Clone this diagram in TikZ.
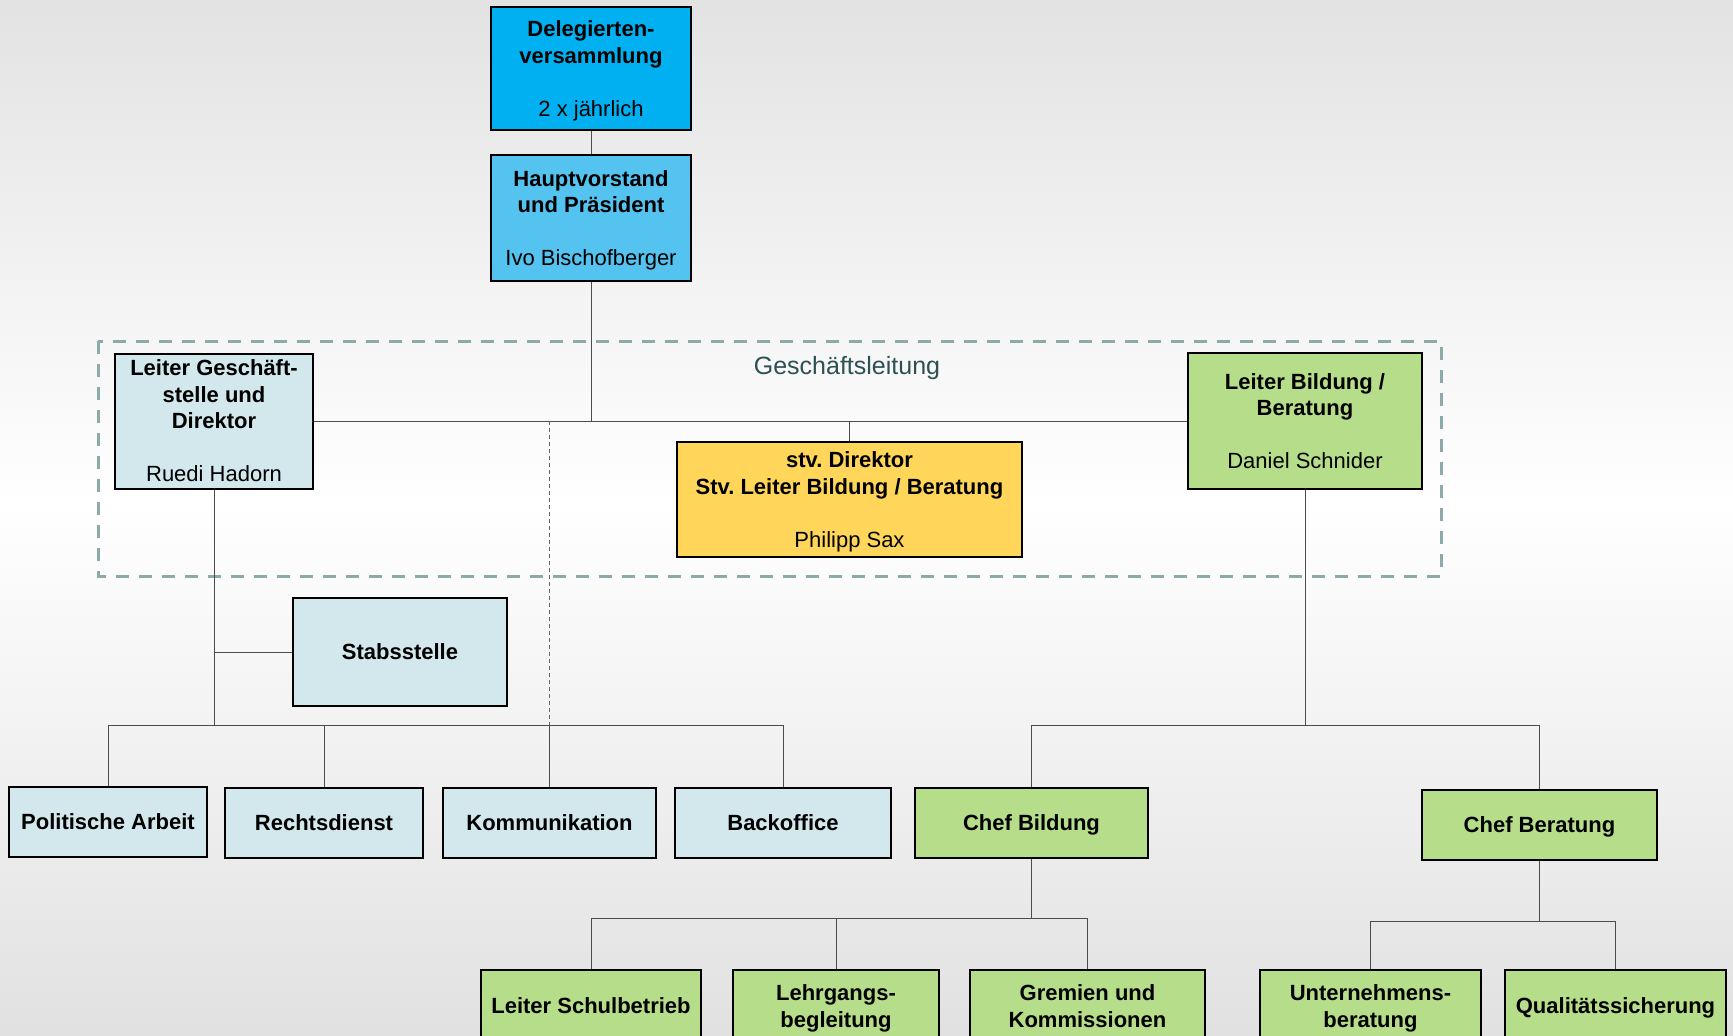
\documentclass[tikz,border=0pt]{standalone}
\usepackage{fontspec}
\setmainfont{Liberation Sans}
\frenchspacing
\begin{document}
\begin{tikzpicture}[x=1pt,y=-1pt,
  box/.style={draw=black, line width=2pt, align=center, inner sep=0pt, text depth=0pt,
    font=\fontsize{22}{26.5}\selectfont\bfseries},
  conn/.style={draw=black!70, line width=1pt},
  dconn/.style={draw=black!60, line width=0.9pt, dash pattern=on 4pt off 3pt}]
\definecolor{cDel}{RGB}{0,176,240}
\definecolor{cHV}{RGB}{85,195,240}
\definecolor{cLB}{RGB}{210,232,236}
\definecolor{cY}{RGB}{255,214,90}
\definecolor{cG}{RGB}{182,222,138}
\definecolor{cDash}{RGB}{140,170,170}
\definecolor{cGL}{RGB}{45,80,85}
\useasboundingbox (0,0) rectangle (1733,1036);
\clip (0,0) rectangle (1733,1036);
% background gradient (gray - white - gray)
\foreach \yy in {0,8,...,1032} {
  \pgfmathsetmacro{\g}{11.5*abs(\yy-500)/520}
  \fill[black!\g] (0,\yy) rectangle (1733,\yy+9);
}
% Geschaeftsleitung frame
\draw[cDash, line width=3pt, dash pattern=on 13pt off 10pt] (98,341) rectangle (1441,576);
\node[font=\fontsize{25}{30}\selectfont, text=cGL] (gl) at (847,368) {Geschäftsleitung};
% nodes
\node[box, fill=cDel, minimum width=200, minimum height=123] (del) at (591,68.5)
  {Delegierten-\\versammlung\\[26.5pt]\mdseries 2 x jährlich};
\node[box, fill=cHV, minimum width=200, minimum height=126] (hv) at (591,218)
  {Hauptvorstand\\und Präsident\\[26.5pt]\mdseries Ivo Bischofberger};
\node[box, fill=cLB, minimum width=198, minimum height=135] (lgs) at (214,421)
  {Leiter Geschäft-\\stelle und\\Direktor\\[26.5pt]\mdseries Ruedi Hadorn};
\node[box, fill=cG, minimum width=234, minimum height=136] (lb) at (1305,421)
  {Leiter Bildung /\\Beratung\\[26.5pt]\mdseries Daniel Schnider};
\node[box, fill=cY, minimum width=345, minimum height=115] (stv) at (849.5,499.5)
  {stv. Direktor\\Stv. Leiter Bildung / Beratung\\[26.5pt]\mdseries Philipp Sax};
\node[box, fill=cLB, minimum width=214, minimum height=108] (stab) at (400,652) {Stabsstelle};
\node[box, fill=cLB, minimum width=198, minimum height=70] (pol) at (108,822) {Politische Arbeit};
\node[box, fill=cLB, minimum width=198, minimum height=70] (recht) at (324,823) {Rechtsdienst};
\node[box, fill=cLB, minimum width=213, minimum height=70] (komm) at (549.5,823) {Kommunikation};
\node[box, fill=cLB, minimum width=216, minimum height=70] (back) at (783,823) {Backoffice};
\node[box, fill=cG, minimum width=233, minimum height=70] (cb) at (1031.5,823) {Chef Bildung};
\node[box, fill=cG, minimum width=235, minimum height=70] (cber) at (1539.5,825) {Chef Beratung};
\node[box, fill=cG, minimum width=220, minimum height=72] (ls) at (591,1006) {Leiter Schulbetrieb};
\node[box, fill=cG, minimum width=206, minimum height=72] (lgb) at (836,1006) {Lehrgangs-\\begleitung};
\node[box, fill=cG, minimum width=235, minimum height=72] (grem) at (1087.5,1006) {Gremien und\\Kommissionen};
\node[box, fill=cG, minimum width=221, minimum height=72] (unt) at (1370.5,1006) {Unternehmens-\\beratung};
\node[box, fill=cG, minimum width=221, minimum height=72] (qual) at (1615.5,1006) {Qualitätssicherung};
% junction coordinates
\coordinate (jH) at (591,421);
\coordinate (jD) at (549.5,421);
\coordinate (bL) at (0,725);
\coordinate (bC) at (0,918);
\coordinate (bQ) at (0,921);
% connectors
\draw[conn] (del.south) -- (hv.north);
\draw[conn] (hv.south) -- (jH);
\draw[conn] (lgs.east) -- (lb.west);
\draw[conn] (stv.north) -- (stv.north |- jH);
\draw[dconn] (jD) -- (jD |- bL);
\draw[conn] (lgs.south) -- (lgs.south |- bL);
\draw[conn] (lgs.south |- stab.west) -- (stab.west);
\draw[conn] (pol.north |- bL) -- (back.north |- bL);
\foreach \n in {pol,recht,komm,back} \draw[conn] (\n.north) -- (\n.north |- bL);
\draw[conn] (lb.south) -- (lb.south |- bL);
\draw[conn] (cb.north |- bL) -- (cber.north |- bL);
\foreach \n in {cb,cber} \draw[conn] (\n.north) -- (\n.north |- bL);
\draw[conn] (cb.south) -- (cb.south |- bC);
\draw[conn] (ls.north |- bC) -- (grem.north |- bC);
\foreach \n in {ls,lgb,grem} \draw[conn] (\n.north) -- (\n.north |- bC);
\draw[conn] (cber.south) -- (cber.south |- bQ);
\draw[conn] (unt.north |- bQ) -- (qual.north |- bQ);
\foreach \n in {unt,qual} \draw[conn] (\n.north) -- (\n.north |- bQ);
\end{tikzpicture}
\end{document}
